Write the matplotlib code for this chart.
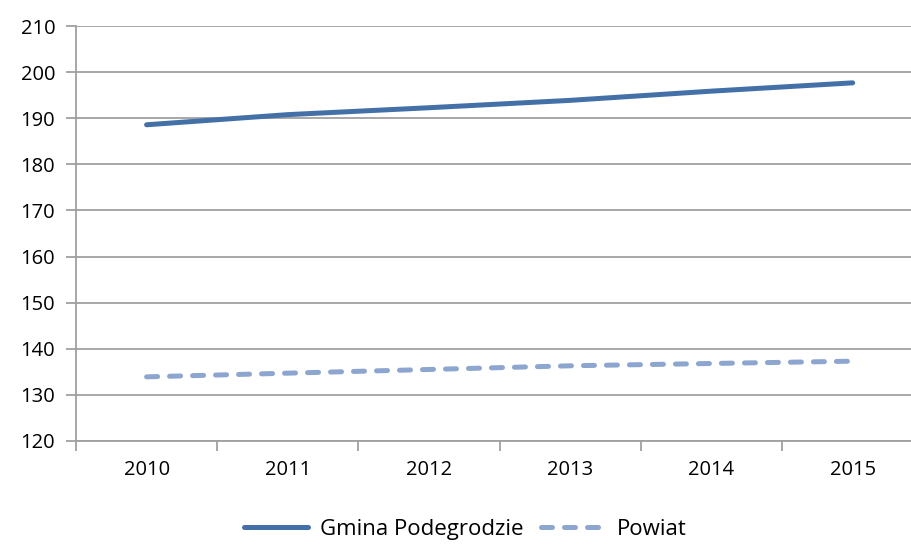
import matplotlib.pyplot as plt
import numpy as np

plt.rcParams['font.family'] = ['Open Sans', 'DejaVu Sans']

years = ['2010', '2011', '2012', '2013', '2014', '2015']
gmina = [188.6, 190.8, 192.3, 193.9, 195.9, 197.7]
powiat = [133.9, 134.7, 135.5, 136.3, 136.8, 137.3]

fig = plt.figure(figsize=(9.12, 5.45), dpi=100)
ax = fig.add_axes([0.0833, 0.191, 0.9167, 0.761])

x = np.arange(len(years))
ax.plot(x, gmina, color='#4470A8', lw=3.6, solid_capstyle='round',
        label='Gmina Podegrodzie', zorder=3)
ax.plot(x, powiat, color='#8DA6CF', lw=3.6, linestyle=(0, (2.2, 2.4)),
        dash_capstyle='round', label='Powiat', zorder=3)

ax.set_ylim(120, 210)
ax.set_yticks(np.arange(120, 211, 10))
ax.set_xlim(-0.5, 5.42)
ax.set_xticks(x)
ax.set_xticklabels(years)
ax.set_xticks(np.arange(-0.5, 5.5, 1), minor=True)
ax.grid(axis='y', color='#A0A0A0', lw=1.3)
ax.set_axisbelow(True)

for s in ['top', 'right']:
    ax.spines[s].set_visible(False)
for s in ['left', 'bottom']:
    ax.spines[s].set_color('#A0A0A0')
    ax.spines[s].set_linewidth(1.3)

ax.tick_params(axis='x', which='major', length=0, pad=14, labelsize=14.5)
ax.tick_params(axis='x', which='minor', length=7, color='#A0A0A0', width=1.3)
ax.tick_params(axis='y', length=7, color='#A0A0A0', width=1.3, pad=8, labelsize=14.5)

fig.legend(*ax.get_legend_handles_labels(), loc='center', bbox_to_anchor=(0.51, 0.028),
           ncol=2, frameon=False, fontsize=16, handlelength=2.9,
           columnspacing=0.8, handletextpad=0.5)

fig.savefig('out.png', dpi=100)
